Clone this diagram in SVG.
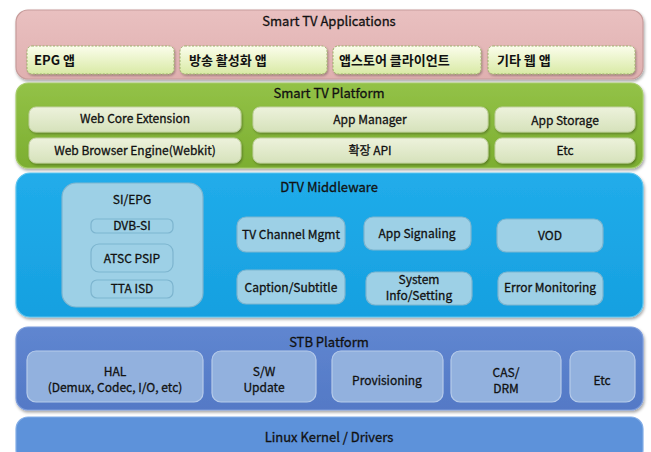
<svg xmlns="http://www.w3.org/2000/svg" width="651" height="452" viewBox="0 0 651 452">
  <defs>
    <filter id="shadow" x="-5%" y="-10%" width="110%" height="130%">
      <feDropShadow dx="1" dy="2" stdDeviation="1.5" flood-color="#000" flood-opacity="0.35"/>
    </filter>
    <filter id="soft" x="-5%" y="-10%" width="110%" height="130%">
      <feDropShadow dx="1" dy="1.5" stdDeviation="1" flood-color="#000" flood-opacity="0.3"/>
    </filter>
    <linearGradient id="gPink" x1="0" y1="0" x2="0" y2="1">
      <stop offset="0" stop-color="#e9c0c0"/>
      <stop offset="1" stop-color="#e0b0b0"/>
    </linearGradient>
    <linearGradient id="gApp" x1="0" y1="0" x2="0" y2="1">
      <stop offset="0" stop-color="#fbfdec"/>
      <stop offset="1" stop-color="#d9eaa6"/>
    </linearGradient>
    <linearGradient id="gGreen" x1="0" y1="0" x2="0" y2="1">
      <stop offset="0" stop-color="#93c247"/>
      <stop offset="1" stop-color="#7cae31"/>
    </linearGradient>
    <linearGradient id="gPlat" x1="0" y1="0" x2="0" y2="1">
      <stop offset="0" stop-color="#edf2dc"/>
      <stop offset="1" stop-color="#d6e2bb"/>
    </linearGradient>
    <linearGradient id="gBlue" x1="0" y1="0" x2="0" y2="1">
      <stop offset="0" stop-color="#21acea"/>
      <stop offset="1" stop-color="#16a0e0"/>
    </linearGradient>
    <linearGradient id="gStb" x1="0" y1="0" x2="0" y2="1">
      <stop offset="0" stop-color="#5f86d0"/>
      <stop offset="1" stop-color="#5479c6"/>
    </linearGradient>
  </defs>
  <style>
    text { font-family: "Noto Sans CJK KR", "Noto Sans", sans-serif; fill: #111; stroke: #111; stroke-width: 0.3; }
    .title { font-size: 13px; text-anchor: middle; }
    .lbl { font-size: 12px; text-anchor: middle; }
    .app { font-size: 13px; font-weight: bold; stroke-width: 0; }
    .layer { stroke-width: 1.2; }
    .appbox { fill: url(#gApp); stroke: #9caf6a; stroke-dasharray: 2 1.5; stroke-width: 1; }
    .platbox { fill: url(#gPlat); stroke: #c3d2a2; stroke-width: 1; }
    .mwbox { fill: #9dd0e6; stroke: #7db5cf; stroke-width: 1.2; }
    .stbbox { fill: #92b1de; stroke: #b6cbea; stroke-width: 1.2; }
  </style>

  <!-- Smart TV Applications -->
  <g id="smart-tv-applications">
    <rect class="layer" x="16" y="10" width="627" height="69" rx="12" fill="url(#gPink)" stroke="#c79c9b" filter="url(#shadow)"/>
    <text class="title" x="329" y="26">Smart TV Applications</text>
  </g>
  <g id="app-epg">
    <rect class="appbox" x="27" y="46" width="147" height="28" rx="5" filter="url(#soft)"/>
    <text class="app" x="34" y="65">EPG 앱</text>
  </g>
  <g id="app-broadcast">
    <rect class="appbox" x="180" y="46" width="147" height="28" rx="5" filter="url(#soft)"/>
    <text class="app" x="189" y="65">방송 활성화 앱</text>
  </g>
  <g id="app-store-client">
    <rect class="appbox" x="333" y="46" width="148" height="28" rx="5" filter="url(#soft)"/>
    <text class="app" x="339" y="65">앱스토어 클라이언트</text>
  </g>
  <g id="app-web">
    <rect class="appbox" x="488" y="46" width="147" height="28" rx="5" filter="url(#soft)"/>
    <text class="app" x="497" y="65">기타 웹 앱</text>
  </g>

  <!-- Smart TV Platform -->
  <g id="smart-tv-platform">
    <rect class="layer" x="16" y="83" width="627" height="85" rx="12" fill="url(#gGreen)" stroke="#a6cc6a" filter="url(#shadow)"/>
    <text class="title" x="329" y="98">Smart TV Platform</text>
  </g>
  <g id="web-core-extension">
    <rect class="platbox" x="29" y="107" width="212" height="25" rx="7" filter="url(#soft)"/>
    <text class="lbl" x="135" y="123" font-size="11">Web Core Extension</text>
  </g>
  <g id="app-manager">
    <rect class="platbox" x="253" y="107" width="235" height="25" rx="7" filter="url(#soft)"/>
    <text class="lbl" x="370" y="124" font-size="13">App Manager</text>
  </g>
  <g id="app-storage">
    <rect class="platbox" x="495" y="107" width="140" height="25" rx="7" filter="url(#soft)"/>
    <text class="lbl" x="565" y="125" font-size="13">App Storage</text>
  </g>
  <g id="web-browser-engine">
    <rect class="platbox" x="29" y="138" width="212" height="25" rx="7" filter="url(#soft)"/>
    <text class="lbl" x="135" y="155">Web  Browser Engine(Webkit)</text>
  </g>
  <g id="ext-api">
    <rect class="platbox" x="253" y="138" width="235" height="25" rx="7" filter="url(#soft)"/>
    <text class="lbl" x="370" y="155">확장 API</text>
  </g>
  <g id="platform-etc">
    <rect class="platbox" x="495" y="138" width="140" height="25" rx="7" filter="url(#soft)"/>
    <text class="lbl" x="565" y="155">Etc</text>
  </g>

  <!-- DTV Middleware -->
  <g id="dtv-middleware">
    <rect class="layer" x="16" y="173" width="627" height="144" rx="14" fill="url(#gBlue)" stroke="#5cc4ef" filter="url(#shadow)"/>
    <text class="title" x="329" y="192">DTV Middleware</text>
  </g>
  <g id="si-epg">
    <rect class="mwbox" x="62" y="183" width="141" height="124" rx="14"/>
    <text class="lbl" x="132" y="204" font-size="14">SI/EPG</text>
  </g>
  <g id="dvb-si">
    <rect class="mwbox" x="91" y="219" width="82" height="14" rx="5" stroke="#5f8fa6"/>
    <text class="lbl" x="132" y="230" font-size="11">DVB-SI</text>
  </g>
  <g id="atsc-psip">
    <rect class="mwbox" x="91" y="244" width="82" height="28" rx="8" stroke="#6a9cb3"/>
    <text class="lbl" x="132" y="263">ATSC  PSIP</text>
  </g>
  <g id="tta-isd">
    <rect class="mwbox" x="91" y="280" width="82" height="18" rx="6" stroke="#6a9cb3"/>
    <text class="lbl" x="132" y="293">TTA ISD</text>
  </g>
  <g id="tv-channel-mgmt">
    <rect class="mwbox" x="237" y="217" width="108" height="35" rx="9"/>
    <text class="lbl" x="291" y="239">TV Channel Mgmt</text>
  </g>
  <g id="app-signaling">
    <rect class="mwbox" x="364" y="217" width="107" height="33" rx="9"/>
    <text class="lbl" x="417" y="238">App Signaling</text>
  </g>
  <g id="vod">
    <rect class="mwbox" x="497" y="219" width="106" height="33" rx="9"/>
    <text class="lbl" x="550" y="240">VOD</text>
  </g>
  <g id="caption-subtitle">
    <rect class="mwbox" x="237" y="270" width="108" height="34" rx="9"/>
    <text class="lbl" x="291" y="292">Caption/Subtitle</text>
  </g>
  <g id="system-info">
    <rect class="mwbox" x="366" y="272" width="106" height="33" rx="9"/>
    <text class="lbl" x="419" y="284">System</text>
    <text class="lbl" x="419" y="300">Info/Setting</text>
  </g>
  <g id="error-monitoring">
    <rect class="mwbox" x="498" y="272" width="105" height="33" rx="9"/>
    <text class="lbl" x="550" y="292">Error Monitoring</text>
  </g>

  <!-- STB Platform -->
  <g id="stb-platform">
    <rect class="layer" x="16" y="327" width="627" height="83" rx="12" fill="url(#gStb)" stroke="#7e9ddb" filter="url(#shadow)"/>
    <text class="title" x="329" y="347">STB Platform</text>
  </g>
  <g id="hal">
    <rect class="stbbox" x="27" y="351" width="176" height="51" rx="9"/>
    <text class="lbl" x="115" y="376">HAL</text>
    <text class="lbl" x="115" y="392">(Demux, Codec, I/O, etc)</text>
  </g>
  <g id="sw-update">
    <rect class="stbbox" x="212" y="351" width="104" height="51" rx="9"/>
    <text class="lbl" x="264" y="376">S/W</text>
    <text class="lbl" x="264" y="392">Update</text>
  </g>
  <g id="provisioning">
    <rect class="stbbox" x="332" y="351" width="111" height="51" rx="9"/>
    <text class="lbl" x="387" y="385">Provisioning</text>
  </g>
  <g id="cas-drm">
    <rect class="stbbox" x="451" y="351" width="110" height="51" rx="9"/>
    <text class="lbl" x="506" y="377">CAS/</text>
    <text class="lbl" x="506" y="393">DRM</text>
  </g>
  <g id="stb-etc">
    <rect class="stbbox" x="570" y="351" width="65" height="51" rx="9"/>
    <text class="lbl" x="602" y="385">Etc</text>
  </g>

  <!-- Linux Kernel / Drivers -->
  <g id="linux-kernel">
    <rect class="layer" x="16" y="417" width="627" height="45" rx="12" fill="#5d92da" stroke="#84aee6"/>
    <text class="title" x="329" y="442">Linux Kernel / Drivers</text>
  </g>

  <!-- no connectors in this layered diagram -->
  <g id="connectors"/>
</svg>
